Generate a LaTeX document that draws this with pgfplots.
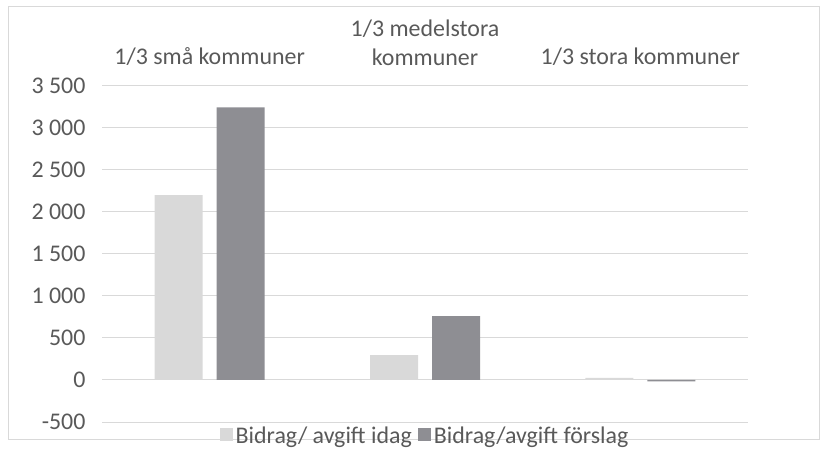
\documentclass[border=0pt]{standalone}
\usepackage{pgfplots}
\pgfplotsset{compat=1.18}
\usepackage{fontspec}
\setmainfont{Carlito}
\definecolor{txt}{HTML}{595959}
\definecolor{gridc}{HTML}{D9D9D9}
\definecolor{idag}{HTML}{D9D9D9}
\definecolor{forslag}{HTML}{8E8E93}
\begin{document}
\begin{tikzpicture}[x=1bp,y=1bp]
\path (0,0) rectangle (828,448);
\draw[gridc, line width=1bp] (8.5,8.5) rectangle (819.5,441.5);
\begin{axis}[at={(102bp,26bp)}, anchor=south west, scale only axis,
  width=646bp, height=336bp,
  ymin=-500, ymax=3500, xmin=-0.5, xmax=2.5,
  ytick={-500,0,...,3500}, xtick={0,1,2},
  xticklabels={{1/3 små kommuner},{1/3 medelstora\\kommuner},{1/3 stora kommuner}},
  xticklabel pos=upper,
  xticklabel style={align=center, anchor=south, text=txt, yshift=17bp,
    font=\fontsize{24}{29}\selectfont},
  yticklabel style={text=txt, xshift=-13bp},
  /pgf/number format/assume math mode=true,
  /pgf/number format/1000 sep={\ },
  axis line style={draw=none}, major tick length=0pt,
  ymajorgrids, grid style={gridc, line width=1bp},
  ybar=14bp, bar width=48bp,
  font=\fontsize{24}{28}\selectfont,
  legend style={at={(0.5,0)}, anchor=north, yshift=-1bp, draw=none, fill=none,
    legend columns=-1, text=txt, font=\fontsize{24}{28}\selectfont,
    /tikz/every odd column/.append style={column sep=1bp},
    /tikz/every even column/.append style={column sep=4bp}},
  legend image code/.code={\fill[#1] (0bp,-5bp) rectangle (13bp,8bp);},
]
\addplot[fill=idag, draw=none] coordinates {(0,2200) (1,295) (2,25)};
\addplot[fill=forslag, draw=none] coordinates {(0,3245) (1,760) (2,-15)};
\legend{Bidrag/ avgift idag, Bidrag/avgift förslag}
\end{axis}
\end{tikzpicture}
\end{document}
